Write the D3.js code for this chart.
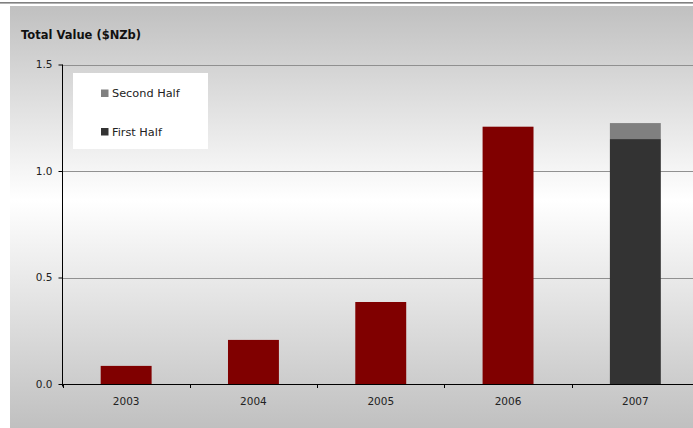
<!DOCTYPE html>
<html>
<head>
<meta charset="utf-8">
<script src="https://cdn.jsdelivr.net/npm/d3@7"></script>
<style>
  html, body { margin: 0; padding: 0; background: #ffffff; }
  svg { display: block; font-family: "DejaVu Sans", Verdana, sans-serif; }
</style>
</head>
<body>
<svg id="chart" width="693" height="428"></svg>
<script>
// Annual values in $NZ billions
const years = ["2003", "2004", "2005", "2006", "2007"];
const fullYear = [0.085, 0.207, 0.385, 1.208, null];
const firstHalf = [null, null, null, null, 1.150];
const secondHalf = [null, null, null, null, 0.075];
const yTicks = [0.0, 0.5, 1.0, 1.5];
const legendLabels = ["Second Half", "First Half"];

(function draw() {
  const svg = d3.select("#chart");
  const W = 693, H = 428;

  // background gradient panel
  const defs = svg.append("defs");
  const grad = defs.append("linearGradient")
    .attr("id", "bg").attr("x1", 0).attr("y1", 0).attr("x2", 0).attr("y2", 1);
  grad.append("stop").attr("offset", "0%").attr("stop-color", "#c0c0c0");
  grad.append("stop").attr("offset", "46%").attr("stop-color", "#ffffff");
  grad.append("stop").attr("offset", "100%").attr("stop-color", "#c0c0c0");

  svg.append("rect").attr("x", 0).attr("y", 2).attr("width", W).attr("height", 1.6)
    .attr("fill", "#808080");
  svg.append("rect").attr("x", 10).attr("y", 6).attr("width", W - 10).attr("height", H - 6)
    .attr("fill", "url(#bg)");

  // plot region (extends a little past the right edge)
  const pLeft = 62.5, pRight = 699, pTop = 64.5, pBottom = 384;

  const x = d3.scaleBand().domain(years).range([pLeft, pRight])
    .paddingInner(0.6).paddingOuter(0.3);
  const y = d3.scaleLinear().domain([0, 1.5]).range([pBottom, pTop]);

  // gridlines
  svg.append("g").selectAll("line").data(yTicks.filter(d => d > 0)).join("line")
    .attr("x1", pLeft).attr("x2", W)
    .attr("y1", d => Math.round(y(d)) + 0.5).attr("y2", d => Math.round(y(d)) + 0.5)
    .attr("stroke", "#909090").attr("stroke-width", 1);

  // title
  svg.append("text").attr("x", 21).attr("y", 39)
    .attr("font-size", "11.5px").attr("font-weight", "bold").attr("fill", "#111")
    .text("Total Value ($NZb)");

  // legend
  const legendColors = ["#808080", "#333333"];
  svg.append("rect").attr("x", 73).attr("y", 73).attr("width", 135).attr("height", 76)
    .attr("fill", "#ffffff");
  const lg = svg.append("g").selectAll("g").data(legendLabels).join("g")
    .attr("transform", (d, i) => `translate(101, ${89.5 + i * 38.5})`);
  lg.append("rect").attr("width", 7.5).attr("height", 7.5)
    .attr("fill", (d, i) => legendColors[i]);
  lg.append("text").attr("x", 11).attr("y", 7.8)
    .attr("font-size", "11.3px").attr("fill", "#222").text(d => d);

  // bars
  const bars = svg.append("g");
  years.forEach((yr, i) => {
    if (fullYear[i] != null) {
      bars.append("rect").attr("x", x(yr)).attr("width", x.bandwidth())
        .attr("y", y(fullYear[i])).attr("height", y(0) - y(fullYear[i]))
        .attr("fill", "#800000");
    }
    if (firstHalf[i] != null) {
      const a = firstHalf[i], b = a + secondHalf[i];
      bars.append("rect").attr("x", x(yr)).attr("width", x.bandwidth())
        .attr("y", y(a)).attr("height", y(0) - y(a)).attr("fill", "#333333");
      bars.append("rect").attr("x", x(yr)).attr("width", x.bandwidth())
        .attr("y", y(b)).attr("height", y(a) - y(b)).attr("fill", "#808080");
    }
  });

  // y axis
  const yAxis = d3.axisLeft(y).tickValues(yTicks).tickFormat(d3.format(".1f"))
    .tickSize(4).tickPadding(6);
  const gy = svg.append("g").attr("transform", `translate(${pLeft},0)`).call(yAxis);
  gy.select(".domain").attr("d", `M0,${pTop}V${pBottom + 2.5}`).attr("stroke", "#000");
  gy.selectAll(".tick line").attr("stroke", "#000");
  gy.selectAll("text").attr("font-size", "10.5px").attr("fill", "#222")
    .attr("font-family", "DejaVu Sans, Verdana, sans-serif");

  // x axis: ticks at category boundaries, labels centred in each band
  const step = x.step();
  const boundaries = d3.range(years.length + 1).map(i => pLeft + i * step);
  const gx = svg.append("g");
  gx.append("line").attr("x1", pLeft).attr("x2", W)
    .attr("y1", pBottom + 0.5).attr("y2", pBottom + 0.5).attr("stroke", "#000");
  gx.selectAll("line.tk").data(boundaries).join("line").attr("class", "tk")
    .attr("x1", d => Math.round(d) + 0.5).attr("x2", d => Math.round(d) + 0.5)
    .attr("y1", pBottom).attr("y2", pBottom + 4).attr("stroke", "#000");
  gx.selectAll("text").data(years).join("text")
    .attr("x", d => x(d) + x.bandwidth() / 2).attr("y", 404.5)
    .attr("text-anchor", "middle").attr("font-size", "10.5px").attr("fill", "#222")
    .text(d => d);
})();
</script>
</body>
</html>
